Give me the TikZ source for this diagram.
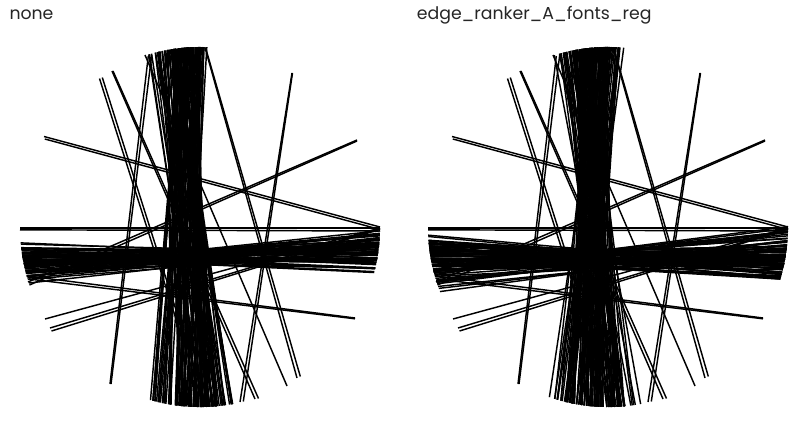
\documentclass[tikz,border=0pt]{standalone}
\usepackage{fontspec}
\setmainfont{Poppins}
\newcommand\vbundle[7]{% #1 cx, #2 n, #3 a0, #4 ha, #5 b0, #6 hb, #7 waist yrel
  \foreach \k in {1,...,#2}{%
    \pgfmathsetmacro\myA{#3+#4*(2*rnd-1)}%
    \pgfmathsetmacro\myB{#5+#6*(2*rnd-1)}%
    \pgfmathsetmacro\myXt{\myA+(-175-(#7))*\myB}%
    \pgfmathsetmacro\myXb{\myA+(178-(#7))*\myB}%
    \pgfmathsetmacro\myYt{-180*sqrt(1-(\myXt/180)^2)}%
    \pgfmathsetmacro\myYb{180*sqrt(1-(\myXb/180)^2)}%
    \draw[chord] (#1+\myXt,227+\myYt) -- (#1+\myXb,227+\myYb);
  }}
\newcommand\hbundle[6]{% #1 cx, #2 n, #3 a0, #4 ha, #5 b0, #6 hb
  \foreach \k in {1,...,#2}{%
    \pgfmathsetmacro\myA{#3+#4*(2*rnd-1)}%
    \pgfmathsetmacro\myB{#5+#6*(2*rnd-1)}%
    \pgfmathsetmacro\myYl{\myA-178*\myB}%
    \pgfmathsetmacro\myYr{\myA+178*\myB}%
    \pgfmathsetmacro\myXl{-180*sqrt(1-(\myYl/180)^2)}%
    \pgfmathsetmacro\myXr{180*sqrt(1-(\myYr/180)^2)}%
    \draw[chord] (#1+\myXl,227+\myYl) -- (#1+\myXr,227+\myYr);
  }}
\newcommand\lonechords{%
  % A
  \draw[chord] (44,136.5) -- (380,227);
  \draw[chord] (44.8,139) -- (380,229.5);
  % horizontal
  \draw[chord] (20,228) -- (380,228);
  \draw[chord] (20,229.8) -- (380,231);
  % chord from lower left to upper right
  \draw[chord] (28,282) -- (357,140);
  \draw[chord] (29.5,285) -- (357,141);
  % E
  \draw[chord] (28,276) -- (355,318);
  \draw[chord] (28.8,279) -- (355,318.8);
  % F, G
  \draw[chord] (45,319) -- (380,228);
  \draw[chord] (50,328) -- (380,228.5);
  \draw[chord] (51.5,331) -- (380,229.2);
  % H
  \draw[chord] (145,55) -- (287,386);
  % C
  \draw[chord] (112,71) -- (255,399);
  \draw[chord] (113,71) -- (258.5,398.5);
  % B
  \draw[chord] (99.5,78.5) -- (204,407);
  \draw[chord] (102.3,77.5) -- (206.8,407);
  % D
  \draw[chord] (148.3,56) -- (110,384);
  \draw[chord] (151.7,55) -- (111,384);
  % chord 3
  \draw[chord] (292,73) -- (240,402);
  \draw[chord] (292.5,73) -- (243.3,401.5);
  % I
  \draw[chord] (205,47.5) -- (297,378);
  \draw[chord] (205.5,47.5) -- (300.3,376.5);
}
\begin{document}
\begin{tikzpicture}[x=1pt,y=-1pt,
  chord/.style={line width=1.45pt, black},
  title/.style={anchor=base west, inner sep=0pt, text=black!85,
    font=\fontsize{17.3}{19}\selectfont}]
\useasboundingbox (0,0) rectangle (808,428);
\fill[white] (0,0) rectangle (808,428);
\node[title] (tleft) at (9.3,19.8) {none};
\node[title] (tright) at (416.7,19.8) {edge\_ranker\_A\_fonts\_reg};
% left panel
\lonechords
\pgfmathsetseed{4711}
\vbundle{200}{115}{-15}{16}{0.04}{0.135}{-42}
\pgfmathsetseed{815}
\hbundle{200}{65}{30}{8}{-0.03}{0.08}
% right panel
\begin{scope}[xshift=408pt]
\lonechords
\end{scope}
\pgfmathsetseed{2024}
\vbundle{608}{125}{-15}{16}{0.02}{0.17}{-40}
\pgfmathsetseed{31337}
\hbundle{608}{85}{32}{10}{-0.014}{0.118}
\end{tikzpicture}
\end{document}
